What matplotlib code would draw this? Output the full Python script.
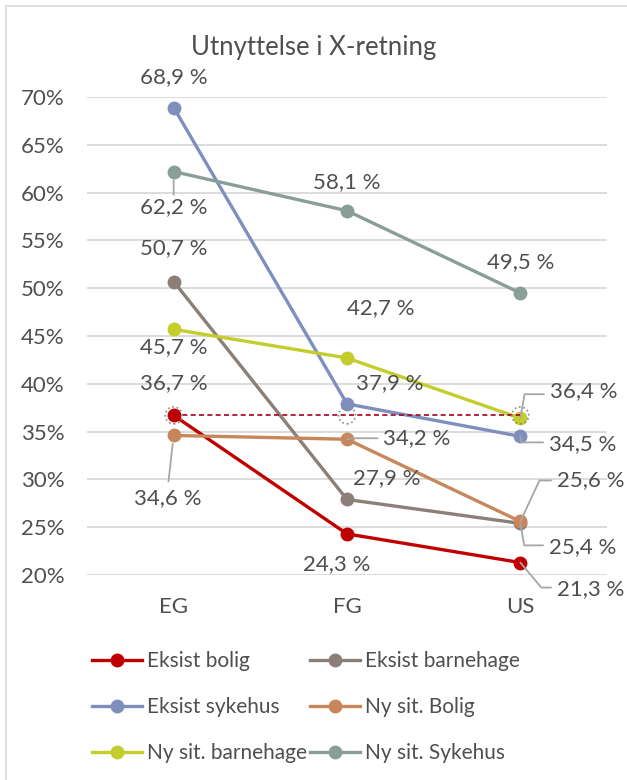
import matplotlib
matplotlib.use("Agg")
import matplotlib.pyplot as plt
from matplotlib.patches import Rectangle

plt.rcParams['font.family'] = ['Lato', 'DejaVu Sans']

# ---- data -------------------------------------------------------------
categories = ["EG", "FG", "US"]
series_names = ["Eksist bolig", "Eksist barnehage", "Eksist sykehus",
                "Ny sit. Bolig", "Ny sit. barnehage", "Ny sit. Sykehus"]
eksist_bolig = [36.7, 24.3, 21.3]
eksist_barnehage = [50.7, 27.9, 25.4]
eksist_sykehus = [68.9, 37.9, 34.5]
ny_bolig = [34.6, 34.2, 25.6]
ny_barnehage = [45.7, 42.7, 36.4]
ny_sykehus = [62.2, 58.1, 49.5]
reference_level = [36.7, 36.7, 36.7]
y_ticks = [20, 25, 30, 35, 40, 45, 50, 55, 60, 65, 70]

series_values = [eksist_bolig, eksist_barnehage, eksist_sykehus,
                 ny_bolig, ny_barnehage, ny_sykehus]
colors = ["#C00000", "#8B7F78", "#7F8FBD", "#C8875A", "#C3CD2B", "#8A9E98"]

# label placement per series and category: (dx, dy) in pixels, leader style
label_pos = {
    0: [((0, 32), None), ((-10, -30), None), ((70, -27), "lr")],
    1: [((0, 33), None), ((40, 21), None), ((62, -24), "ld")],
    2: [((0, 30), None), ((43, 21), None), ((62, -8), "ld")],
    3: [((-6, -63), "down"), ((70, 1), "side"), ((70, 41), "lu")],
    4: [((0, -18), None), ((34, 50), None), ((63, 27), "lu_v")],
    5: [((0, -36), "down_short"), ((0, 29), None), ((0, 31), None)],
}

leader_styles = {
    "down": dict(shrinkA=3, shrinkB=6, relpos=(0.5, 1.0)),
    "down_short": dict(shrinkA=0, shrinkB=6, relpos=(0.5, 1.0)),
    "side": dict(shrinkA=2, shrinkB=0, relpos=(0.0, 0.5),
                 connectionstyle="angle,angleA=0,angleB=10,rad=0"),
    "lu_v": dict(shrinkA=2, shrinkB=0, relpos=(0.0, 0.35),
                 connectionstyle="angle,angleA=0,angleB=80,rad=0"),
    "lu": dict(shrinkA=2, shrinkB=0, relpos=(0.0, 0.5),
               connectionstyle="angle,angleA=0,angleB=65,rad=0"),
    "ld": dict(shrinkA=2, shrinkB=0, relpos=(0.0, 0.6),
               connectionstyle="angle,angleA=0,angleB=-80,rad=0"),
    "lr": dict(shrinkA=2, shrinkB=0, relpos=(0.0, 0.6),
               connectionstyle="angle,angleA=0,angleB=-50,rad=0"),
}

text_color = "#4F4F4F"
grid_color = "#D9D9D9"
leader_color = "#A6A6A6"

fig = plt.figure(figsize=(6.27, 7.8), dpi=100)
W, H = 627, 780

# chart area frame
fig.patches.append(Rectangle((6 / W, -0.02), 1.2, (H - 6) / H + 0.02,
                             transform=fig.transFigure, fill=False,
                             edgecolor="#D9D9D9", linewidth=1.2))

ax = fig.add_axes([87 / W, 1 - 575 / H, 520 / W, (575 - 97) / H])
x = list(range(len(categories)))

ax.set_xlim(-0.5, len(categories) - 0.5)
ax.set_ylim(y_ticks[0], y_ticks[-1])
ax.set_yticks(y_ticks)
ax.set_yticklabels([f"{t}%" for t in y_ticks])
ax.set_xticks(x)
ax.set_xticklabels(categories)
ax.tick_params(length=0, labelsize=16, colors=text_color)
ax.tick_params(axis="y", pad=16)
ax.tick_params(axis="x", pad=16)
for s in ax.spines.values():
    s.set_visible(False)
ax.grid(axis="y", color=grid_color, linewidth=1.3)
ax.set_axisbelow(True)

# dashed reference level with dotted ring markers
ax.plot(x, reference_level, color="#A50021", linestyle=(0, (3, 2)),
        linewidth=1.2, zorder=4)
ax.scatter(x, reference_level, s=150, facecolor="none", edgecolor="#8C8C8C",
           linewidth=1.2, linestyle=":", zorder=5)

handles = []
for name, vals, c in zip(series_names, series_values, colors):
    h, = ax.plot(x, vals, color=c, linewidth=2.4, marker="o", markersize=10,
                 markeredgewidth=0, label=name, zorder=3)
    handles.append(h)

# data labels
for si, vals in enumerate(series_values):
    for ci, v in enumerate(vals):
        (dx, dy), leader = label_pos[si][ci]
        txt = f"{v:.1f} %".replace(".", ",")
        kw = dict(xy=(ci, v), xytext=(dx, dy), textcoords="offset pixels",
                  ha="center", va="center", fontsize=16, color=text_color,
                  zorder=6)
        if leader is not None:
            kw["arrowprops"] = dict(arrowstyle="-", color=leader_color, lw=1.3,
                                    **leader_styles[leader])
        ax.annotate(txt, **kw)

fig.text(314 / W, 1 - 47 / H, "Utnyttelse i X-retning", ha="center",
         va="center", fontsize=18.5, color=text_color)

# legend in two columns
leg_kw = dict(frameon=False, fontsize=15, handlelength=2.4, handletextpad=0.25,
              labelspacing=1.25, borderaxespad=0, borderpad=0,
              labelcolor=text_color)
leg1 = fig.legend(handles[0::2], [h.get_label() for h in handles[0::2]],
                  loc="upper left", bbox_to_anchor=(92 / W, 1 - 651 / H),
                  **leg_kw)
leg2 = fig.legend(handles[1::2], [h.get_label() for h in handles[1::2]],
                  loc="upper left", bbox_to_anchor=(310 / W, 1 - 651 / H),
                  **leg_kw)

fig.savefig("out.png", dpi=100)
